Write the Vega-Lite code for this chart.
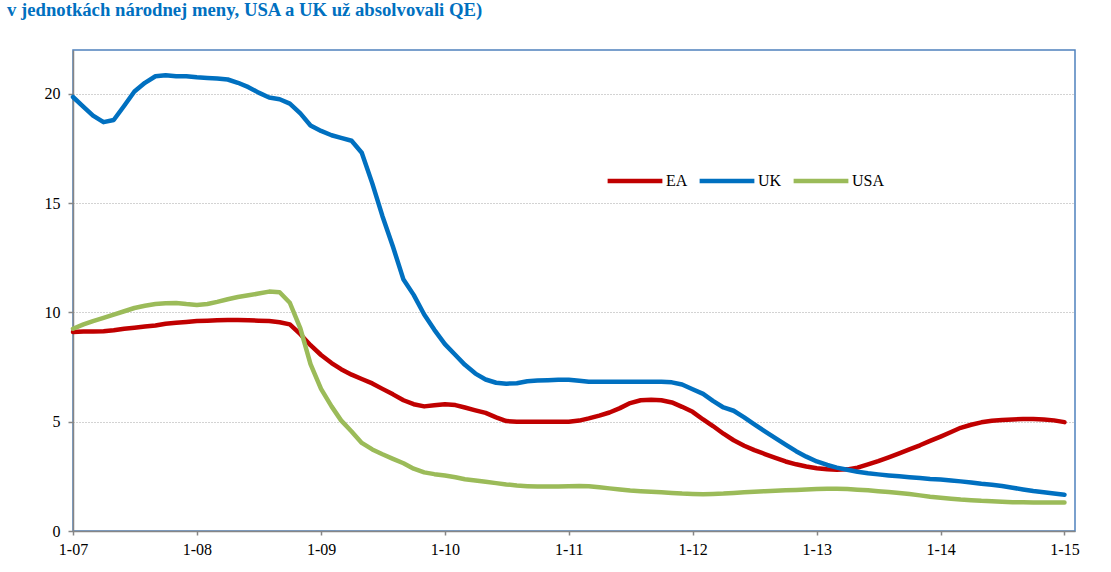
{
  "$schema": "https://vega.github.io/schema/vega-lite/v6.json",
  "autosize": "none",
  "width": 1002,
  "height": 481,
  "padding": {"left": 73, "top": 50, "right": 36, "bottom": 41},
  "background": "white",
  "title": {
    "text": "v jednotkách národnej meny, USA a UK už absolvovali QE)",
    "anchor": "start",
    "orient": "top",
    "font": "Liberation Serif",
    "fontSize": 18.7,
    "fontWeight": "bold",
    "color": "#0070C0",
    "baseline": "alphabetic",
    "offset": 15,
    "dx": -37
  },
  "config": {
    "view": {"stroke": "#4F81BD", "strokeWidth": 1.5},
    "font": "Liberation Serif"
  },
  "data": {
    "values": [
      {"d": "2007/01/01", "EA": 9.1, "UK": 19.85, "USA": 9.25},
      {"d": "2007/02/01", "EA": 9.12, "UK": 19.4, "USA": 9.45},
      {"d": "2007/03/01", "EA": 9.13, "UK": 19.0, "USA": 9.6},
      {"d": "2007/04/01", "EA": 9.14, "UK": 18.7, "USA": 9.75},
      {"d": "2007/05/01", "EA": 9.18, "UK": 18.8, "USA": 9.9},
      {"d": "2007/06/01", "EA": 9.25, "UK": 19.45, "USA": 10.05},
      {"d": "2007/07/01", "EA": 9.3, "UK": 20.1, "USA": 10.2},
      {"d": "2007/08/01", "EA": 9.35, "UK": 20.5, "USA": 10.3},
      {"d": "2007/09/01", "EA": 9.4, "UK": 20.8, "USA": 10.38},
      {"d": "2007/10/01", "EA": 9.48, "UK": 20.85, "USA": 10.42},
      {"d": "2007/11/01", "EA": 9.52, "UK": 20.8, "USA": 10.43},
      {"d": "2007/12/01", "EA": 9.56, "UK": 20.8, "USA": 10.38},
      {"d": "2008/01/01", "EA": 9.6, "UK": 20.75, "USA": 10.34},
      {"d": "2008/02/01", "EA": 9.62, "UK": 20.72, "USA": 10.38},
      {"d": "2008/03/01", "EA": 9.64, "UK": 20.7, "USA": 10.48},
      {"d": "2008/04/01", "EA": 9.65, "UK": 20.65, "USA": 10.6},
      {"d": "2008/05/01", "EA": 9.65, "UK": 20.5, "USA": 10.7},
      {"d": "2008/06/01", "EA": 9.64, "UK": 20.3, "USA": 10.78},
      {"d": "2008/07/01", "EA": 9.62, "UK": 20.05, "USA": 10.86},
      {"d": "2008/08/01", "EA": 9.6, "UK": 19.83, "USA": 10.95},
      {"d": "2008/09/01", "EA": 9.55, "UK": 19.75, "USA": 10.92},
      {"d": "2008/10/01", "EA": 9.45, "UK": 19.55, "USA": 10.44},
      {"d": "2008/11/01", "EA": 9.0, "UK": 19.1, "USA": 9.27},
      {"d": "2008/12/01", "EA": 8.5, "UK": 18.55, "USA": 7.63},
      {"d": "2009/01/01", "EA": 8.05, "UK": 18.3, "USA": 6.5},
      {"d": "2009/02/01", "EA": 7.68, "UK": 18.1, "USA": 5.7},
      {"d": "2009/03/01", "EA": 7.4, "UK": 17.98, "USA": 5.06},
      {"d": "2009/04/01", "EA": 7.15, "UK": 17.85, "USA": 4.55},
      {"d": "2009/05/01", "EA": 6.95, "UK": 17.3, "USA": 4.03},
      {"d": "2009/06/01", "EA": 6.75, "UK": 15.9, "USA": 3.73},
      {"d": "2009/07/01", "EA": 6.5, "UK": 14.4, "USA": 3.51},
      {"d": "2009/08/01", "EA": 6.25, "UK": 13.0, "USA": 3.3},
      {"d": "2009/09/01", "EA": 5.98, "UK": 11.5, "USA": 3.1},
      {"d": "2009/10/01", "EA": 5.8, "UK": 10.8, "USA": 2.85},
      {"d": "2009/11/01", "EA": 5.7, "UK": 9.9, "USA": 2.68},
      {"d": "2009/12/01", "EA": 5.75, "UK": 9.2, "USA": 2.6},
      {"d": "2010/01/01", "EA": 5.8, "UK": 8.55, "USA": 2.54},
      {"d": "2010/02/01", "EA": 5.76, "UK": 8.05, "USA": 2.46},
      {"d": "2010/03/01", "EA": 5.65, "UK": 7.6, "USA": 2.37},
      {"d": "2010/04/01", "EA": 5.52, "UK": 7.2, "USA": 2.31},
      {"d": "2010/05/01", "EA": 5.4, "UK": 6.93, "USA": 2.25},
      {"d": "2010/06/01", "EA": 5.2, "UK": 6.78, "USA": 2.19},
      {"d": "2010/07/01", "EA": 5.03, "UK": 6.74, "USA": 2.13},
      {"d": "2010/08/01", "EA": 5.0, "UK": 6.76, "USA": 2.08},
      {"d": "2010/09/01", "EA": 5.0, "UK": 6.85, "USA": 2.05},
      {"d": "2010/10/01", "EA": 5.0, "UK": 6.88, "USA": 2.03},
      {"d": "2010/11/01", "EA": 5.0, "UK": 6.9, "USA": 2.03},
      {"d": "2010/12/01", "EA": 5.0, "UK": 6.92, "USA": 2.04},
      {"d": "2011/01/01", "EA": 5.0, "UK": 6.92, "USA": 2.05},
      {"d": "2011/02/01", "EA": 5.05, "UK": 6.87, "USA": 2.06},
      {"d": "2011/03/01", "EA": 5.15, "UK": 6.83, "USA": 2.05},
      {"d": "2011/04/01", "EA": 5.28, "UK": 6.83, "USA": 2.0},
      {"d": "2011/05/01", "EA": 5.42, "UK": 6.83, "USA": 1.95},
      {"d": "2011/06/01", "EA": 5.62, "UK": 6.83, "USA": 1.9},
      {"d": "2011/07/01", "EA": 5.85, "UK": 6.83, "USA": 1.85},
      {"d": "2011/08/01", "EA": 5.98, "UK": 6.83, "USA": 1.82},
      {"d": "2011/09/01", "EA": 6.0, "UK": 6.83, "USA": 1.8},
      {"d": "2011/10/01", "EA": 5.98, "UK": 6.83, "USA": 1.77},
      {"d": "2011/11/01", "EA": 5.88, "UK": 6.8, "USA": 1.74},
      {"d": "2011/12/01", "EA": 5.68, "UK": 6.7, "USA": 1.71},
      {"d": "2012/01/01", "EA": 5.45, "UK": 6.48, "USA": 1.69},
      {"d": "2012/02/01", "EA": 5.1, "UK": 6.27, "USA": 1.68},
      {"d": "2012/03/01", "EA": 4.8, "UK": 5.95, "USA": 1.69},
      {"d": "2012/04/01", "EA": 4.45, "UK": 5.65, "USA": 1.71},
      {"d": "2012/05/01", "EA": 4.15, "UK": 5.5, "USA": 1.74},
      {"d": "2012/06/01", "EA": 3.9, "UK": 5.2, "USA": 1.77},
      {"d": "2012/07/01", "EA": 3.7, "UK": 4.88, "USA": 1.8},
      {"d": "2012/08/01", "EA": 3.52, "UK": 4.56, "USA": 1.82},
      {"d": "2012/09/01", "EA": 3.35, "UK": 4.25, "USA": 1.84},
      {"d": "2012/10/01", "EA": 3.18, "UK": 3.95, "USA": 1.86},
      {"d": "2012/11/01", "EA": 3.05, "UK": 3.65, "USA": 1.88},
      {"d": "2012/12/01", "EA": 2.95, "UK": 3.4, "USA": 1.9},
      {"d": "2013/01/01", "EA": 2.87, "UK": 3.18, "USA": 1.92},
      {"d": "2013/02/01", "EA": 2.82, "UK": 3.02, "USA": 1.93},
      {"d": "2013/03/01", "EA": 2.8, "UK": 2.9, "USA": 1.93},
      {"d": "2013/04/01", "EA": 2.82, "UK": 2.8, "USA": 1.92},
      {"d": "2013/05/01", "EA": 2.9, "UK": 2.71, "USA": 1.89},
      {"d": "2013/06/01", "EA": 3.05, "UK": 2.64, "USA": 1.86},
      {"d": "2013/07/01", "EA": 3.2, "UK": 2.59, "USA": 1.82},
      {"d": "2013/08/01", "EA": 3.37, "UK": 2.54, "USA": 1.78},
      {"d": "2013/09/01", "EA": 3.55, "UK": 2.5, "USA": 1.74},
      {"d": "2013/10/01", "EA": 3.73, "UK": 2.46, "USA": 1.69},
      {"d": "2013/11/01", "EA": 3.92, "UK": 2.42, "USA": 1.63},
      {"d": "2013/12/01", "EA": 4.12, "UK": 2.38, "USA": 1.57},
      {"d": "2014/01/01", "EA": 4.32, "UK": 2.35, "USA": 1.52},
      {"d": "2014/02/01", "EA": 4.53, "UK": 2.31, "USA": 1.48},
      {"d": "2014/03/01", "EA": 4.72, "UK": 2.27, "USA": 1.44},
      {"d": "2014/04/01", "EA": 4.86, "UK": 2.22, "USA": 1.41},
      {"d": "2014/05/01", "EA": 4.97, "UK": 2.16, "USA": 1.38},
      {"d": "2014/06/01", "EA": 5.04, "UK": 2.12, "USA": 1.36},
      {"d": "2014/07/01", "EA": 5.08, "UK": 2.06, "USA": 1.34},
      {"d": "2014/08/01", "EA": 5.1, "UK": 1.98, "USA": 1.32},
      {"d": "2014/09/01", "EA": 5.12, "UK": 1.9, "USA": 1.31},
      {"d": "2014/10/01", "EA": 5.12, "UK": 1.83, "USA": 1.3},
      {"d": "2014/11/01", "EA": 5.1, "UK": 1.77, "USA": 1.3},
      {"d": "2014/12/01", "EA": 5.06, "UK": 1.72, "USA": 1.3},
      {"d": "2015/01/01", "EA": 4.98, "UK": 1.66, "USA": 1.3}
    ]
  },
  "transform": [
    {"fold": ["EA", "UK", "USA"], "as": ["series", "value"]}
  ],
  "mark": {"type": "line", "strokeWidth": 4.5, "strokeCap": "round", "strokeJoin": "round"},
  "encoding": {
    "x": {
      "field": "d",
      "type": "temporal",
      "scale": {"domain": [{"year": 2007, "month": 1, "date": 1}, {"year": 2015, "month": 2, "date": 1}]},
      "axis": {
        "title": null,
        "format": "%-m-%y",
        "tickCount": {"interval": "year", "step": 1},
        "grid": false,
        "domainColor": "#868686",
        "domainWidth": 1.5,
        "tickColor": "#868686",
        "tickWidth": 1.5,
        "tickSize": 4,
        "labelFont": "Liberation Serif",
        "labelFontSize": 16,
        "labelColor": "#000000",
        "labelPadding": 6,
        "labelFlush": false,
        "labelOverlap": false
      }
    },
    "y": {
      "field": "value",
      "type": "quantitative",
      "scale": {"domain": [0, 22], "nice": false},
      "axis": {
        "title": null,
        "values": [0, 5, 10, 15, 20],
        "grid": true,
        "gridColor": "#A6A6A6",
        "gridDash": [1, 2],
        "gridWidth": 1,
        "domainColor": "#868686",
        "domainWidth": 1.5,
        "tickColor": "#868686",
        "tickWidth": 1.5,
        "tickSize": 5,
        "labelFont": "Liberation Serif",
        "labelFontSize": 16,
        "labelColor": "#000000",
        "labelPadding": 8
      }
    },
    "color": {
      "field": "series",
      "type": "nominal",
      "scale": {"domain": ["EA", "UK", "USA"], "range": ["#C00000", "#0070C0", "#9BBB59"]},
      "legend": {
        "title": null,
        "orient": "none",
        "legendX": 532,
        "legendY": 101,
        "direction": "horizontal",
        "symbolType": "stroke",
        "symbolSize": 3000,
        "symbolStrokeWidth": 4.5,
        "labelFont": "Liberation Serif",
        "labelFontSize": 16,
        "labelColor": "#000000",
        "labelOffset": 1,
        "columnPadding": 2
      }
    }
  }
}
